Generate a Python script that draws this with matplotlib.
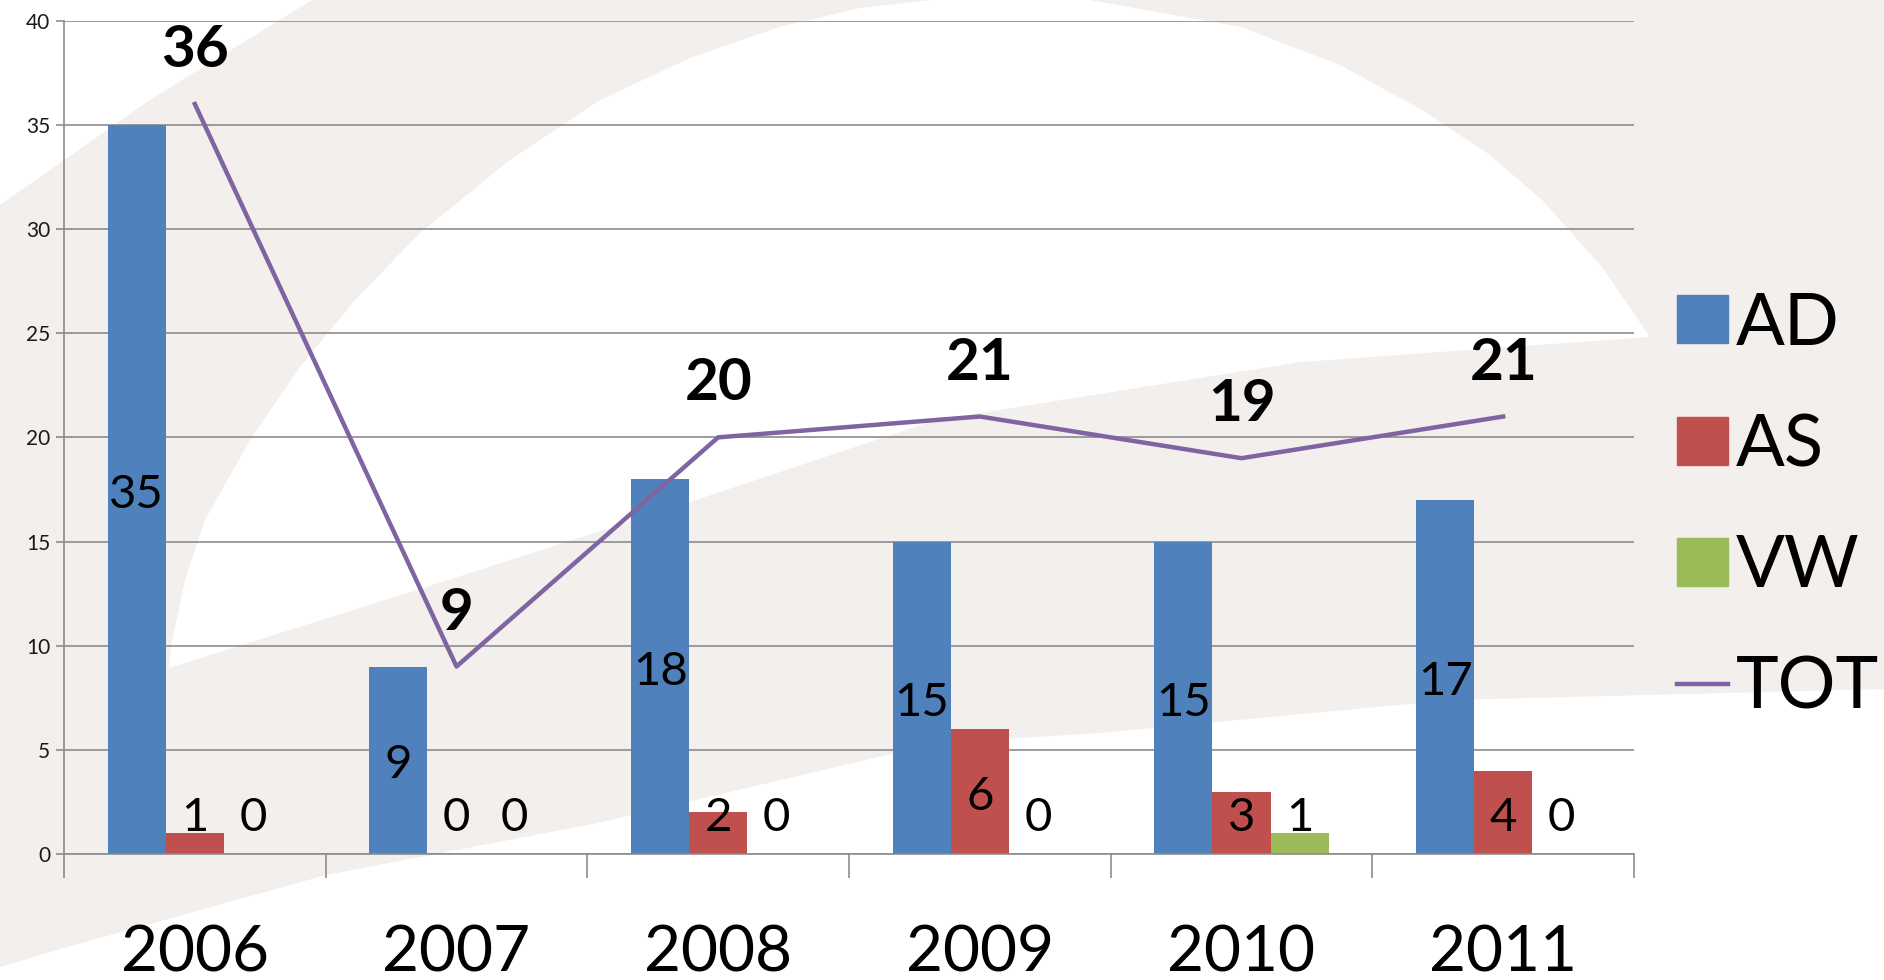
import matplotlib.pyplot as plt
from matplotlib.patches import Polygon, Patch
from matplotlib.lines import Line2D
import numpy as np

years = ['2006', '2007', '2008', '2009', '2010', '2011']
ad = [35, 9, 18, 15, 15, 17]
as_ = [1, 0, 2, 6, 3, 4]
vw = [0, 0, 0, 0, 1, 0]
tot = [36, 9, 20, 21, 19, 21]

BLUE = '#4F81BD'
RED = '#C0504D'
GREEN = '#9BBB59'
PURPLE = '#8064A2'
BEIGE = '#F2EFEC'
GRID = '#8C8C8C'

plt.rcParams['font.family'] = ['Lato', 'DejaVu Sans']

fig = plt.figure(figsize=(18.84, 9.80), dpi=100, facecolor=BEIGE)

# decorative background swooshes (pixel coords, y down)
bg = fig.add_axes([0, 0, 1, 1], zorder=0)
bg.set_xlim(0, 1884)
bg.set_ylim(980, 0)
bg.axis('off')
white_shapes = [
    [(0, 0), (312, 0), (150, 100), (0, 205)],
    [(930, 0), (1090, 0), (1241, 27), (1340, 65), (1422, 110), (1490, 155),
     (1542, 200), (1602, 267), (1650, 337), (1301, 362), (936, 420),
     (660, 512), (420, 589), (169, 668), (171, 645), (185, 580), (205, 520),
     (250, 440), (300, 367), (355, 300), (420, 233), (510, 160), (600, 100),
     (690, 58), (779, 27), (860, 8)],
    [(0, 967), (64, 948), (326, 875), (598, 823), (938, 743), (1100, 733),
     (1451, 700), (1884, 689), (1884, 980), (0, 980)],
]
for pts in white_shapes:
    bg.add_patch(Polygon(pts, closed=True, facecolor='white', edgecolor='none'))

ax = fig.add_axes([64 / 1884, 126 / 980, 1570 / 1884, 833.3 / 980], zorder=1)
ax.set_facecolor('none')

x = np.arange(len(years))
w = 0.222
series = [(-w, ad, BLUE, 'AD'), (0, as_, RED, 'AS'), (w, vw, GREEN, 'VW')]
for off, vals, col, name in series:
    ax.bar(x + off, vals, w, color=col, label=name, zorder=2)
    for xi, v in zip(x, vals):
        ax.text(xi + off, max(v / 2, 2.0) - 0.25, str(v), ha='center',
                va='center', fontsize=34, color='black', zorder=4)

ax.plot(x, tot, color=PURPLE, lw=3.2, label='TOT', zorder=3)
for xi, t in zip(x, tot):
    ax.annotate(str(t), (xi, t), xytext=(0, 38.5), textcoords='offset points',
                ha='center', va='center', fontsize=42, fontweight='bold',
                zorder=4, annotation_clip=False)

ax.set_xlim(-0.5, 5.5)
ax.set_ylim(0, 40)
ax.set_yticks(range(0, 41, 5))
ax.yaxis.grid(True, color=GRID, lw=1.2)
ax.set_axisbelow(True)
for s in ['top', 'right']:
    ax.spines[s].set_visible(False)
for s in ['left', 'bottom']:
    ax.spines[s].set_color(GRID)
    ax.spines[s].set_linewidth(1.2)
ax.tick_params(axis='y', length=6, width=1.2, color=GRID, labelsize=15,
               pad=4, labelcolor='#1a1a1a')

ax.set_xticks(np.arange(-0.5, 6, 1))
ax.set_xticklabels([])
ax.set_xticks(x, minor=True)
ax.set_xticklabels(years, minor=True)
ax.tick_params(axis='x', which='major', length=17, width=1.2, color=GRID)
ax.tick_params(axis='x', which='minor', length=0, labelsize=46, pad=51)

handles = [Patch(color=BLUE), Patch(color=RED), Patch(color=GREEN),
           Line2D([], [], color=PURPLE, lw=3.2)]
ax.legend(handles, ['AD', 'AS', 'VW', 'TOT'], loc='center left',
          bbox_to_anchor=(1677 / 1884, 0.4835), bbox_transform=fig.transFigure,
          frameon=False, fontsize=52, handlelength=0.71, handleheight=0.65,
          handletextpad=0.1, labelspacing=0.78, borderpad=0, borderaxespad=0)

fig.savefig('out.png', dpi=100, facecolor=BEIGE)
